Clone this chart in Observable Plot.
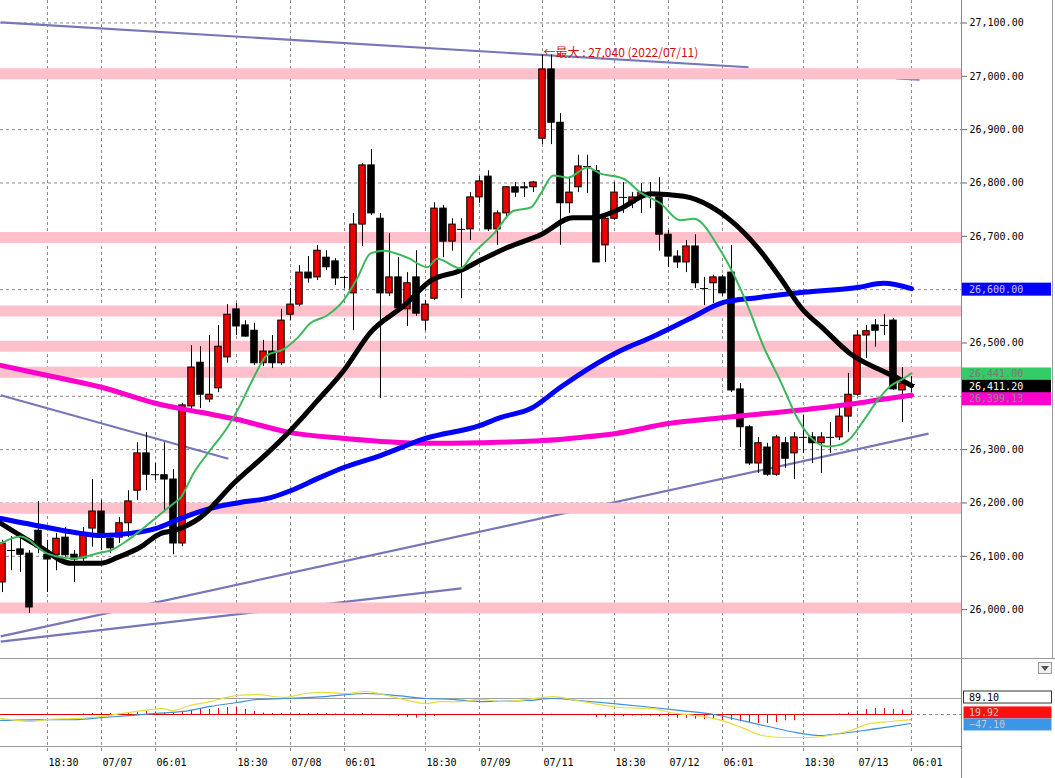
<!DOCTYPE html>
<html><head><meta charset="utf-8">
<script src="https://cdn.jsdelivr.net/npm/d3@7"></script>
<script src="https://cdn.jsdelivr.net/npm/@observablehq/plot@0.6"></script>
<style>
body{margin:0;background:#fff;}
#wrap{width:1055px;height:778px;overflow:hidden;background:#fff;}
#wrap svg{display:block;}
</style></head><body><div id="wrap"></div>
<script>
// ---------- DATA ----------
// hourly candles, index 0..101
const open = [26051,26111,26113,26105,26148,26103,26102,26135,26103,26096,
 26152,26184,26133,26135,26162,26223,26293,26253,26252,26244,
 26124,26381,26463,26394,26415,26473,26563,26533,26523,26462,
 26484,26462,26553,26572,26632,26623,26660,26653,26623,26593,
 26722,26833,26733,26593,26623,26563,26623,26542,26583,26752,
 26690,26713,26713,26773,26812,26713,26743,26792,26792,26792,
 26883,27013,26913,26762,26792,26831,26822,26683,26733,26773,
 26762,26773,26782,26773,26703,26662,26651,26681,26602,26612,
 26623,26632,26413,26342,26274,26304,26253,26312,26293,26323,
 26323,26312,26323,26323,26362,26403,26514,26533,26533,26542,
 26411,26422];
const high = [26130,26137,26135,26111,26203,26130,26143,26154,26111,26154,
 26244,26205,26143,26173,26223,26313,26332,26274,26313,26263,
 26387,26495,26493,26514,26533,26572,26574,26542,26537,26505,
 26514,26563,26602,26645,26662,26683,26673,26658,26625,26743,
 26837,26863,26743,26705,26660,26632,26673,26580,26763,26758,
 26733,26733,26782,26812,26823,26748,26793,26801,26801,26803,
 27040,27040,26930,26810,26852,26852,26833,26743,26801,26801,
 26782,26799,26801,26810,26711,26673,26692,26703,26623,26627,
 26627,26683,26424,26345,26323,26312,26327,26323,26332,26364,
 26332,26332,26351,26383,26443,26523,26533,26544,26553,26546,
 26454,26437];
const low = [26032,26073,26070,25993,26105,26032,26073,26098,26051,26083,
 26117,26111,26105,26124,26135,26205,26223,26242,26182,26103,
 26118,26373,26377,26388,26407,26462,26514,26511,26458,26456,
 26452,26458,26542,26568,26612,26617,26636,26608,26602,26523,
 26681,26739,26396,26587,26557,26531,26550,26523,26580,26660,
 26672,26583,26692,26762,26709,26683,26733,26773,26773,26782,
 26872,26872,26683,26743,26782,26780,26651,26651,26730,26743,
 26752,26743,26752,26672,26642,26640,26632,26602,26570,26574,
 26587,26407,26304,26270,26255,26250,26250,26265,26244,26293,
 26274,26255,26293,26317,26332,26400,26471,26492,26514,26411,
 26351,26407];
const close = [26124,26111,26103,26004,26117,26094,26133,26102,26094,26139,
 26184,26135,26115,26162,26203,26293,26253,26253,26244,26124,
 26383,26454,26403,26403,26493,26553,26531,26512,26462,26484,
 26462,26542,26572,26632,26621,26673,26642,26621,26623,26722,
 26833,26743,26593,26623,26565,26612,26555,26572,26752,26690,
 26722,26713,26773,26803,26713,26743,26792,26782,26790,26801,
 27013,26913,26762,26782,26831,26831,26651,26733,26782,26773,
 26773,26782,26782,26703,26662,26651,26681,26612,26602,26623,
 26593,26411,26342,26274,26312,26253,26323,26283,26323,26323,
 26312,26323,26323,26362,26403,26514,26522,26523,26533,26413,
 26424,26422];

// moving averages (candle index, price)
const greenIdx = [-0.2,2,5,7.9,10.9,12,13.9,15.3,17.6,19,19.8,21.2,22.8,25,26.4,27.9,29.4,31.2,32.8,34.2,36.1,37.9,39.4,40.9,42.3,45,47.2,48.3,50.9,52.3,54.6,56.8,58.7,59.8,61.2,62.8,65,66.4,69,70.9,73.1,75.3,76.8,79.8,81.2,82.8,84.6,86.4,88.3,89.8,91.7,92.8,94.2,95.7,97.2,98.7,100.1,101];
const greenVal = [26124,26137,26105,26096,26107,26111,26130,26148,26180,26199,26210,26255,26293,26342,26383,26435,26477,26488,26510,26537,26552,26580,26621,26668,26673,26660,26642,26658,26640,26668,26705,26748,26754,26780,26814,26810,26829,26818,26808,26782,26762,26730,26733,26673,26630,26570,26492,26430,26360,26323,26306,26308,26321,26355,26392,26420,26433,26443];
const blackIdx = [-0.2,4.2,7.6,10.9,12.8,15.3,17.6,19,22,25.7,29.4,32,35,37.9,40.9,44.6,47.6,50.9,53.1,56.1,59.8,63.4,65.7,68.7,72,75.7,78.7,80.9,83.9,86.1,89,91.2,94.2,97.2,99.4,101];
const blackVal = [26162,26117,26087,26087,26098,26117,26143,26148,26173,26237,26293,26336,26392,26448,26520,26570,26617,26636,26655,26679,26703,26735,26735,26752,26780,26775,26756,26730,26679,26630,26561,26527,26480,26452,26435,26420];
const blueIdx = [-0.2,5,8.7,11,14.2,17,19.8,23.1,26.4,29.8,32,35.3,38,42,47,53,55.3,58.7,62,65.3,68.7,72,76.4,80.1,83.9,89,95,97.9,101];
const blueVal = [26171,26154,26143,26139,26143,26152,26171,26190,26201,26210,26223,26248,26267,26289,26321,26345,26360,26377,26417,26454,26486,26510,26546,26576,26585,26595,26604,26612,26602];
const magentaIdx = [-0.2,5,11,17,22,26,32,38,47,53,60,64.2,68,74,80,89,95,97.6,101];
const magentaVal = [26458,26439,26417,26387,26370,26357,26332,26321,26312,26313,26317,26323,26330,26349,26360,26375,26387,26394,26402];

// hand-drawn trend lines (start index, start price, end index, end price)
const trendX1 = [-0.2, 99.3, -0.2, -0.2, -0.2];
const trendY1 = [27101, 26996, 26402, 25940, 25950];
const trendX2 = [82.9, 101.9, 25.1, 51, 102.9];
const trendY2 = [27017, 26994, 26283, 26040, 26330];

// horizontal support/resistance bands
const bandLevels = [27005, 26698, 26560, 26494, 26445, 26190, 26003];

// price tags on the right axis
const tagValues = [26600.00, 26441.00, 26411.20, 26399.13];

// max label
const maxDate = "2022/07/11";

// axis ticks
const yTicks = [26000,26100,26200,26300,26400,26500,26600,26700,26800,26900,27000,27100];
const gridIdx = [5,11,17,26,32,38,47,53,60,68,74,80,89,95,101];
const gridLabels = ["18:30","07/07","06:01","18:30","07/08","06:01","18:30","07/09","07/11","18:30","07/12","06:01","18:30","07/13","06:01"];

// MACD panel
const macdIdx = [-0.2,3.2,5,8.4,11,13.3,15.6,17.8,18.9,20.8,23.1,26.1,28.3,31.3,33.6,35.8,38.1,40.3,41.8,44.1,45.6,47.1,48.6,50.9,53.1,55.4,58.4,61.1,63.8,65.7,68.7,72.3,74.2,77.7,79.9,82.1,84.4,86.7,89.7,91.9,94.2,96.4,98.7,100.9];
const macdVal = [-22,-39,-28,-22,-11,6,22,33,22,50,72,106,111,95,117,123,117,128,117,89,72,61,72,72,84,72,84,100,78,61,39,33,11,-11,-33,-72,-117,-128,-128,-117,-89,-50,-39,-28];
const signalIdx = [-0.2,5,8.4,11,14.1,17.1,20.1,23.1,26.1,28.3,31.3,35.8,40.3,42.6,44.9,47.1,50.1,53.1,58.4,61.1,64.1,67.9,72.3,75.4,79.1,82.1,85.1,88.1,90.8,93,95.7,98.7,100.9];
const signalVal = [-33,-28,-28,-17,-6,6,17,45,67,84,89,100,117,111,100,89,84,72,78,89,78,61,39,22,0,-33,-67,-100,-117,-106,-89,-67,-50];
const histVal = [0,0,0,0,0,0,0,0,0,3,
 5,5,5,3,6,11,17,14,8,6,
 17,22,28,28,33,39,39,28,17,8,
 6,5,3,5,5,5,5,3,0,3,
 6,3,-3,-8,-12,-17,-20,-17,-10,-6,
 -4,-2,-2,-2,-2,-2,-2,-2,-2,0,
 2,2,0,0,0,-7,-17,-17,-13,-13,
 -9,-9,-9,-13,-13,-22,-22,-26,-28,-28,
 -35,-32,-41,-46,-50,-50,-45,-35,-35,-9,
 -6,-6,-2,3,9,19,28,33,33,28,
 24,20];
const macdLevel = 89.10;
const macdTags = [89.10, 19.92, -47.10];

// ---------- LAYOUT ----------
const W = 1055, PW = 961, mainH = 658, subH = 120;
const xDomain = [-0.222, 106.56];
const yDomain = [25908.4, 27142.2];
const mono = "DejaVu Sans Mono, monospace";

const candles = open.map((o,i)=>({i, open:o, high:high[i], low:low[i], close:close[i]}));
const pts = (ix, v) => ix.map((x,k)=>({x, v:v[k]}));
const trends = trendX1.map((x,k)=>({x1:x, y1:trendY1[k], x2:trendX2[k], y2:trendY2[k]}));
const maxI = d3.maxIndex(high);
const maxLabel = [{x:maxI, y:high[maxI], t:`←最大 : ${d3.format(",")(high[maxI])} (${maxDate})`}];
// axis labels that sit beneath a price tag are hidden by the tag in the reference
const tagStep = (yDomain[1]-yDomain[0]) / mainH * 8;
const fmtTick = d => tagValues.some(v => Math.abs(v-d) < tagStep) ? "" : d3.format(",.2f")(d);

const main = Plot.plot({
  width: W, height: mainH,
  marginLeft: 0, marginRight: W - PW, marginTop: 0, marginBottom: 0,
  style: {background:"#fff", fontFamily: mono, fontSize:"10px", color:"#000", overflow:"visible"},
  x: {domain: xDomain, axis: null},
  y: {domain: yDomain, axis: null},
  marks: [
    Plot.ruleY(yTicks, {stroke:"#8a8a8a", strokeDasharray:"3,3"}),
    Plot.ruleX(gridIdx, {stroke:"#8a8a8a", strokeDasharray:"3,3"}),
    Plot.link(trends, {x1:"x1", y1:"y1", x2:"x2", y2:"y2", stroke:"#7676b8", strokeWidth:2.2}),
    Plot.ruleY(bandLevels, {stroke:"#ffc0cb", strokeWidth:11}),
    Plot.ruleX(candles, {x:"i", y1:"low", y2:"high", stroke:"#000", strokeWidth:1}),
    Plot.rect(candles.filter(d=>d.open!==d.close), {
      x1: d=>d.i-0.36, x2: d=>d.i+0.36, y1:"open", y2:"close",
      fill: d=>d.close>d.open ? "#ee0000" : "#000", stroke:"#000", strokeWidth:1}),
    Plot.ruleY(candles.filter(d=>d.open===d.close), {y:"open", x1:d=>d.i-0.45, x2:d=>d.i+0.45, stroke:"#000"}),
    Plot.line(pts(magentaIdx, magentaVal), {x:"x", y:"v", stroke:"#ff00cc", strokeWidth:5, curve:"monotone-x"}),
    Plot.line(pts(blueIdx, blueVal), {x:"x", y:"v", stroke:"#0000ff", strokeWidth:5, curve:"monotone-x"}),
    Plot.line(pts(blackIdx, blackVal), {x:"x", y:"v", stroke:"#000", strokeWidth:5, curve:"monotone-x"}),
    Plot.line(pts(greenIdx, greenVal), {x:"x", y:"v", stroke:"#3cb85c", strokeWidth:2, curve:"monotone-x"}),
    Plot.text(maxLabel, {x:"x", y:"y", text:"t", textAnchor:"start", dx:1, dy:-2, fill:"#d01010",
      fontFamily:"Noto Sans CJK JP, sans-serif", fontSize:12}),
    Plot.axisY({anchor:"right", ticks:yTicks, tickFormat:fmtTick, tickSize:5, tickPadding:3,
      fontFamily: mono, fontSize:10, stroke:"#666", fill:"#000"})
  ]
});

// frame lines and price tags (positioned with Plot's own y scale)
{
  const svg = d3.select(main);
  const ys = main.scale("y");
  svg.append("line").attr("x1",PW+0.5).attr("x2",PW+0.5).attr("y1",0).attr("y2",mainH).attr("stroke","#888");
  svg.append("line").attr("x1",1052.5).attr("x2",1052.5).attr("y1",0).attr("y2",mainH).attr("stroke","#999");
  const fills = ["#0000ff","#33cc66","#000000","#ff00cc"];
  const tcol = ["#c8c8ff","#7a7a7a","#ffffff","#8a8a8a"];
  const dy = [0, 0, -3.5, 2.5];
  const g = svg.append("g").attr("font-family", mono).attr("font-size", 10).attr("text-anchor","start");
  tagValues.forEach((v,k)=>{
    const cy = ys.apply(v) + dy[k];
    g.append("rect").attr("x",PW+1).attr("y",cy-6.5).attr("width",89).attr("height",13).attr("fill",fills[k]);
    g.append("text").attr("x",PW+8).attr("y",cy+3.5).attr("text-anchor","start").attr("fill",tcol[k]).text(d3.format(",.2f")(v));
  });
}

const labelMap = new Map(gridIdx.map((d,k)=>[d, gridLabels[k]]));
const hist = histVal.map((v,i)=>({i, v}));

const sub = Plot.plot({
  width: W, height: subH,
  marginLeft: 0, marginRight: W - PW, marginTop: 0, marginBottom: 32,
  style: {background:"#fff", fontFamily: mono, fontSize:"10px", color:"#000", overflow:"visible"},
  x: {domain: xDomain, axis: null},
  y: {domain: [-178.2, 311.9], axis: null},
  marks: [
    Plot.ruleX(gridIdx, {stroke:"#8a8a8a", strokeDasharray:"3,3", insetBottom:-6}),
    Plot.ruleY([macdLevel], {stroke:"#a0a0a0"}),
    Plot.ruleY([0], {x1: xDomain[0], x2: candles.length-1, stroke:"#e00000"}),
    Plot.ruleY([0], {x1: candles.length-1, x2: xDomain[1], stroke:"#888", strokeDasharray:"3,3"}),
    Plot.ruleX(hist, {x:"i", y1:0, y2:"v", stroke:"#e00000"}),
    Plot.line(pts(signalIdx, signalVal), {x:"x", y:"v", stroke:"#3d8fe0", strokeWidth:1.2, curve:"monotone-x"}),
    Plot.line(pts(macdIdx, macdVal), {x:"x", y:"v", stroke:"#e6dc3c", strokeWidth:1.2, curve:"monotone-x"}),
    Plot.axisX({anchor:"bottom", ticks:gridIdx, tickFormat:d=>labelMap.get(d), tickSize:0, tickPadding:12,
      textAnchor:"start", dx:1, fontFamily: mono, fontSize:10, fill:"#000"})
  ]
});

{
  const svg = d3.select(sub);
  const ys = sub.scale("y");
  svg.append("line").attr("x1",0).attr("x2",W).attr("y1",0.5).attr("y2",0.5).attr("stroke","#999");
  svg.append("line").attr("x1",0).attr("x2",PW).attr("y1",88.5).attr("y2",88.5).attr("stroke","#999");
  svg.append("line").attr("x1",PW+0.5).attr("x2",PW+0.5).attr("y1",0).attr("y2",subH).attr("stroke","#888");
  // dropdown button
  svg.append("rect").attr("x",1038.5).attr("y",4.5).attr("width",13).attr("height",11).attr("fill","#f0f0f0").attr("stroke","#999");
  svg.append("path").attr("d","M1041,8 L1049,8 L1045,13 Z").attr("fill","#555");
  const fills = ["#ffffff","#ff1010","#3d95e8"];
  const strokes = ["#333","none","none"];
  const tcol = ["#000","#c8c8c8","#c8c8c8"];
  const dy = [-1, 2, 2];
  const g = svg.append("g").attr("font-family", mono).attr("font-size", 10).attr("text-anchor","start");
  macdTags.forEach((v,k)=>{
    const cy = ys.apply(v) + dy[k];
    g.append("rect").attr("x",PW+2.5).attr("y",cy-6).attr("width",88).attr("height",12)
      .attr("fill",fills[k]).attr("stroke",strokes[k]);
    g.append("text").attr("x",PW+8).attr("y",cy+3.5).attr("text-anchor","start").attr("fill",tcol[k]).text(d3.format(".2f")(v));
  });
}

document.getElementById("wrap").append(main, sub);
</script></body></html>
